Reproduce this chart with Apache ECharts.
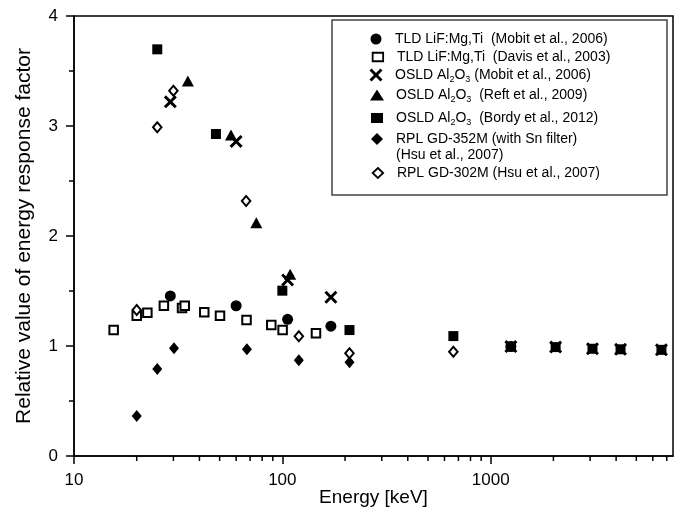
<!DOCTYPE html>
<html>
<head>
<meta charset="utf-8">
<script src="https://cdn.jsdelivr.net/npm/echarts@6/dist/echarts.min.js"></script>
<style>
html,body{margin:0;padding:0;background:#fff;}
#chart{width:681px;height:513px;}
</style>
</head>
<body>
<div id="chart"></div>
<script>
// ---- data ----
const energyTldMobit = [29, 60, 106, 171, 1250];
const valueTldMobit  = [1.455, 1.366, 1.243, 1.18, 0.995];

const energyTldDavis = [15.5, 20, 22.5, 27, 33, 34, 42.2, 50.2, 67.3, 88.5, 100.3, 145];
const valueTldDavis  = [1.145, 1.275, 1.303, 1.366, 1.345, 1.365, 1.306, 1.275, 1.236, 1.191, 1.145, 1.115];

const energyOsldMobit = [29, 60, 106, 171, 1250, 2050, 3080, 4200, 6600];
const valueOsldMobit  = [3.22, 2.86, 1.60, 1.443, 0.995, 0.99, 0.975, 0.97, 0.965];

const energyOsldReft = [35.2, 56.7, 75, 109];
const valueOsldReft  = [3.41, 2.918, 2.121, 1.652];

const energyOsldBordy = [25.1, 48, 100, 210, 662, 1250, 2050, 3080, 4200, 6600];
const valueOsldBordy  = [3.697, 2.927, 1.503, 1.145, 1.09, 0.995, 0.99, 0.975, 0.97, 0.965];

const energyRpl352 = [20, 25.1, 30.2, 67.6, 120, 210];
const valueRpl352  = [0.364, 0.791, 0.979, 0.97, 0.87, 0.852];

const energyRpl302 = [20, 25.1, 30, 67, 120, 210, 662];
const valueRpl302  = [1.327, 2.988, 3.321, 2.318, 1.088, 0.934, 0.948];

const xMinorTicks = [20,30,40,50,60,70,80,90,200,300,400,500,600,700,800,900,2000,3000,4000,5000,6000,7000];
const xMajorLabels = [10, 100, 1000];
const yTicks = [0, 1, 2, 3, 4];

const seriesNames = [
  'TLD LiF:Mg,Ti  (Mobit et al., 2006)',
  'TLD LiF:Mg,Ti  (Davis et al., 2003)',
  'OSLD Al2O3 (Mobit et al., 2006)',
  'OSLD Al2O3  (Reft et al., 2009)',
  'OSLD Al2O3  (Bordy et al., 2012)',
  'RPL GD-352M (with Sn filter)',
  'RPL GD-302M (Hsu et al., 2007)'
];
const legendRich = [
  '{a|TLD LiF:Mg,Ti  (Mobit et al., 2006)}',
  '{a|TLD LiF:Mg,Ti  (Davis et al., 2003)}',
  '{a|OSLD Al}{s|2}{a|O}{s|3}{a| (Mobit et al., 2006)}',
  '{a|OSLD Al}{s|2}{a|O}{s|3}{a|  (Reft et al., 2009)}',
  '{a|OSLD Al}{s|2}{a|O}{s|3}{a|  (Bordy et al., 2012)}',
  '{a|RPL GD-352M (with Sn filter)}',
  '{a|RPL GD-302M (Hsu et al., 2007)}'
];
const legendRowY = [37, 55, 73, 93, 116, 137, 171];
const secondLineText = '(Hsu et al., 2007)';

// ---- styling ----
const FONT = '"Liberation Sans", Arial, Helvetica, sans-serif';
const xShape = 'path://M0,1.6 L1.6,0 L5,3.4 L8.4,0 L10,1.6 L6.6,5 L10,8.4 L8.4,10 L5,6.6 L1.6,10 L0,8.4 L3.4,5 Z';
const styles = [
  {symbol:'circle', size:[11,11], item:{color:'#000'}},
  {symbol:'rect', size:[8.5,8.5], item:{color:'#fff', borderColor:'#000', borderWidth:2}},
  {symbol:xShape, size:[13,13], item:{color:'#000'}},
  {symbol:'triangle', size:[12,11], item:{color:'#000'}},
  {symbol:'rect', size:[10,10], item:{color:'#000'}},
  {symbol:'diamond', size:[10,12], item:{color:'#000'}},
  {symbol:'diamond', size:[8.5,10], item:{color:'#fff', borderColor:'#000', borderWidth:2}}
];
const energies = [energyTldMobit, energyTldDavis, energyOsldMobit, energyOsldReft, energyOsldBordy, energyRpl352, energyRpl302];
const values = [valueTldMobit, valueTldDavis, valueOsldMobit, valueOsldReft, valueOsldBordy, valueRpl352, valueRpl302];

const chart = echarts.init(document.getElementById('chart'), null, {renderer:'canvas'});

const series = seriesNames.map((name, i) => ({
  name: name,
  type: 'scatter',
  symbol: styles[i].symbol,
  symbolSize: styles[i].size,
  itemStyle: Object.assign({opacity:1}, styles[i].item),
  data: energies[i].map((e, k) => [e, values[i][k]]),
  z: 3 + i
}));

series.push({
  name: 'minorTicks',
  type: 'custom',
  silent: true,
  clip: false,
  z: 10,
  data: xMinorTicks.map(v => [v, 0]),
  renderItem: function (params, api) {
    const p = api.coord([api.value(0), 0]);
    return {type:'line', shape:{x1:p[0], y1:p[1], x2:p[0], y2:p[1] + 5},
            style:{stroke:'#000', lineWidth:1.5}};
  }
});

const legends = seriesNames.map((name, i) => {
  const iw = styles[i].size[0] + 2;
  return {
    data: [{name: name, icon: styles[i].symbol}],
    orient: 'vertical',
    padding: 0,
    left: 377 - iw / 2,
    top: legendRowY[i] - 5,
    itemWidth: iw,
    itemHeight: styles[i].size[1],
    itemStyle: {borderWidth: styles[i].item.borderWidth ? 1.8 : 0},
    selectedMode: false,
    formatter: function () { return legendRich[i]; },
    textStyle: {
      fontFamily: FONT, fontSize: 14, color: '#000',
      padding: [0, 0, 0, 19 - iw / 2 - 5],
      rich: {
        a: {fontFamily: FONT, fontSize: 14, color: '#000', lineHeight: 18, verticalAlign: 'middle'},
        s: {fontFamily: FONT, fontSize: 9, color: '#000', lineHeight: 18, verticalAlign: 'bottom'}
      }
    }
  };
});

const option = {
  animation: false,
  backgroundColor: '#fff',
  textStyle: {fontFamily: FONT},
  grid: {left: 74, right: 8, top: 16, bottom: 57, show: true, borderColor: '#000', borderWidth: 1.5,
         backgroundColor: 'transparent', containLabel: false, outerBoundsMode: 'none'},
  legend: legends,
  xAxis: {
    type: 'log', logBase: 10, min: 10, max: 7500,
    name: 'Energy [keV]', nameLocation: 'middle', nameGap: 32, nameMoveOverlap: false,
    nameTextStyle: {fontFamily: FONT, fontSize: 19, color: '#000'},
    axisLine: {show: true, onZero: false, lineStyle: {color: '#000', width: 1.5}},
    axisTick: {show: true, inside: false, length: 8, lineStyle: {color: '#000', width: 1.5}},
    splitLine: {show: false},
    minorTick: {show: false},
    axisLabel: {
      fontFamily: FONT, fontSize: 17, color: '#000', margin: 16, showMaxLabel: false,
      formatter: function (v) {
        const r = Math.round(v);
        return xMajorLabels.indexOf(r) >= 0 && Math.abs(v - r) < 1e-6 * r ? String(r) : '';
      }
    }
  },
  yAxis: {
    type: 'value', min: yTicks[0], max: yTicks[yTicks.length - 1], interval: 1,
    name: 'Relative value of energy response factor', nameLocation: 'middle', nameGap: 39, nameMoveOverlap: false,
    nameTextStyle: {fontFamily: FONT, fontSize: 21, color: '#000'},
    axisLine: {show: true, lineStyle: {color: '#000', width: 1.5}},
    axisTick: {show: true, inside: false, length: 8, lineStyle: {color: '#000', width: 1.5}},
    minorTick: {show: true, splitNumber: 2, length: 5, lineStyle: {color: '#000', width: 1.5}},
    splitLine: {show: false},
    axisLabel: {fontFamily: FONT, fontSize: 17, color: '#000', margin: 16}
  },
  graphic: [
    {type: 'rect', shape: {x: 332, y: 20, width: 335, height: 175}, z: 1,
     style: {fill: '#fff', stroke: '#444', lineWidth: 1.5}},
    {type: 'text', x: 396, y: 155, z: 20,
     style: {text: secondLineText, font: '14px ' + FONT, fill: '#000', textVerticalAlign: 'middle', textAlign: 'left'}}
  ],
  series: series
};
chart.setOption(option);
</script>
</body>
</html>
